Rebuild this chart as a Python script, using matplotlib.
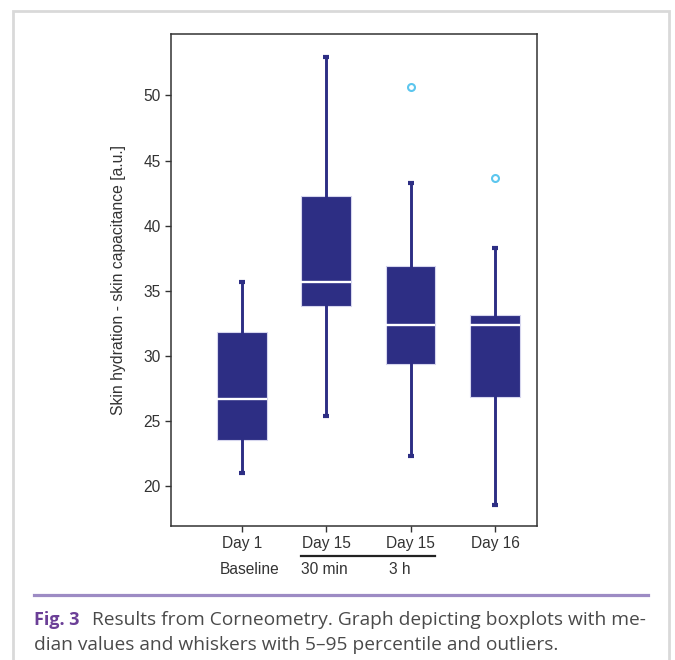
import matplotlib
matplotlib.use("Agg")
import matplotlib.pyplot as plt
from matplotlib.lines import Line2D
from matplotlib.patches import Rectangle
import matplotlib.transforms as mtransforms

# Values (skin capacitance, a.u.)
groups = ["Day 1", "Day 15", "Day 15", "Day 16"]
sublabels = ["Baseline", "30 min", "3 h"]
medians = [26.7, 35.7, 32.35, 32.35]
q1 = [23.5, 33.85, 29.4, 26.8]
q3 = [31.8, 42.3, 36.9, 33.1]
whis_lo = [21.0, 25.35, 22.3, 18.55]
whis_hi = [35.65, 52.95, 43.3, 38.3]
outliers = [[], [], [50.65], [43.65]]

navy = "#2d2e84"
flier_blue = "#5cc6ee"
purple = "#6b3f97"
lavender = "#9d8bc4"
text_grey = "#4a4a4a"

plt.rcParams["font.family"] = ["Liberation Sans", "DejaVu Sans"]

fig = plt.figure(figsize=(6.75, 6.6), dpi=100)
W, H = 675, 660

# axes placed in pixels of the reference
left, right, top, bottom = 171, 537, 34, 526
ax = fig.add_axes([left / W, 1 - bottom / H, (right - left) / W, (bottom - top) / H])

stats = []
for i in range(len(groups)):
    stats.append({
        "med": medians[i], "q1": q1[i], "q3": q3[i],
        "whislo": whis_lo[i], "whishi": whis_hi[i],
        "fliers": outliers[i], "label": groups[i],
    })

ax.bxp(stats, positions=range(1, len(groups) + 1), widths=0.59,
       patch_artist=True, showfliers=True,
       boxprops=dict(facecolor=navy, edgecolor="#d6d6ee", linewidth=0.8),
       medianprops=dict(color="white", linewidth=1.7),
       whiskerprops=dict(color=navy, linewidth=2.1),
       capprops=dict(color=navy, linewidth=3.0, solid_capstyle="butt"),
       capwidths=0.07,
       flierprops=dict(marker="o", markerfacecolor="white",
                       markeredgecolor=flier_blue, markersize=5,
                       markeredgewidth=1.5))

ax.set_xlim(0.163, 4.497)
ax.set_ylim(16.93, 54.72)
ax.set_yticks([20, 25, 30, 35, 40, 45, 50])
ax.set_ylabel("Skin hydration - skin capacitance [a.u.]", fontsize=11.3,
              color="#333333")
ax.yaxis.set_label_coords(-0.122, 0.499)
ax.tick_params(axis="both", labelsize=11.2, colors="#333333", length=4,
               width=1, direction="out")
for sp in ax.spines.values():
    sp.set_color("#333333")
    sp.set_linewidth(1.1)

# second row of x labels and the bracket line below "Day 15"
trans = mtransforms.blended_transform_factory(ax.transData, ax.transAxes)
sub_x = [0.745, 1.705, 2.75]
for xs, lab in zip(sub_x, sublabels):
    ax.text(xs, -0.0874, lab, transform=trans, ha="left", va="center",
            fontsize=11.2, color="#333333")
ax.add_line(Line2D([1.705, 3.29], [-0.0604, -0.0604], transform=trans,
                   color="#222222", linewidth=1.6, clip_on=False))

# grey frame round the figure panel
fig.patches.append(Rectangle((13 / W, -0.05), (669 - 13) / W, 1.05 - 11 / H,
                             transform=fig.transFigure, fill=False,
                             edgecolor="#d9d9d9", linewidth=2))

# caption
fig.add_artist(Line2D([34 / W, 648 / W], [1 - 594.5 / H, 1 - 594.5 / H],
                      transform=fig.transFigure, color=lavender, linewidth=2.3))
cap_font = ["Open Sans", "DejaVu Sans"]
fig.text(34 / W, 1 - 620 / H, "Fig. 3", color=purple, fontsize=13,
         fontweight="bold", family=cap_font, va="center", ha="left")
fig.text(92 / W, 1 - 620 / H,
         "Results from Corneometry. Graph depicting boxplots with me-",
         color=text_grey, fontsize=13.75, family=cap_font, va="center", ha="left")
fig.text(34 / W, 1 - 645 / H,
         "dian values and whiskers with 5\u201395 percentile and outliers.",
         color=text_grey, fontsize=13.75, family=cap_font, va="center", ha="left")

fig.savefig("out.png", dpi=100)
